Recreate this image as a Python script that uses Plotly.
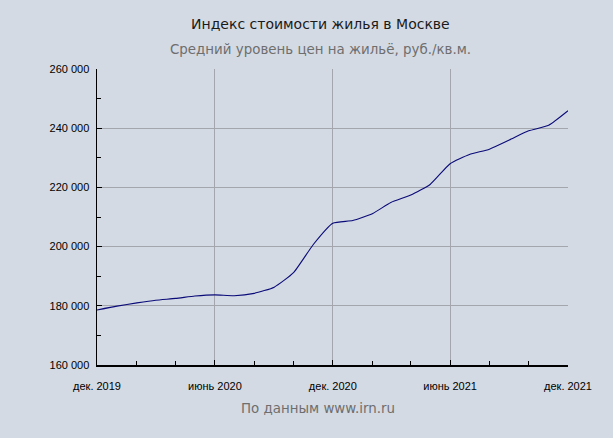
import plotly.graph_objects as go

months = ["2019-12-01", "2020-01-01", "2020-02-01", "2020-03-01", "2020-04-01", "2020-05-01",
          "2020-06-01", "2020-07-01", "2020-08-01", "2020-09-01", "2020-10-01", "2020-11-01",
          "2020-12-01", "2021-01-01", "2021-02-01", "2021-03-01", "2021-04-01", "2021-05-01",
          "2021-06-01", "2021-07-01", "2021-08-01", "2021-09-01", "2021-10-01", "2021-11-01",
          "2021-12-01"]
price = [178600, 179900, 181000, 181900, 182500, 183300,
         183700, 183400, 184200, 186300, 191200, 200800,
         207900, 208800, 211200, 214900, 217400, 221000,
         228000, 231100, 232900, 236000, 239100, 241000,
         245900]

x_tickvals = ["2019-12-01", "2020-06-01", "2020-12-01", "2021-06-01", "2021-12-01"]
x_ticktext = ["дек. 2019", "июнь 2020", "дек. 2020", "июнь 2021", "дек. 2021"]
y_tickvals = [160000, 180000, 200000, 220000, 240000, 260000]
y_ticktext = ["160 000", "180 000", "200 000", "220 000", "240 000", "260 000"]

title = "Индекс стоимости жилья в Москве"
subtitle = "Средний уровень цен на жильё, руб./кв.м."
source = "По данным www.irn.ru"

bg = "#D3DAE3"

fig = go.Figure()
fig.add_trace(go.Scatter(x=months, y=price, mode="lines",
                         line=dict(color="#0A0A78", width=1.1, shape="spline", smoothing=0.5),
                         hoverinfo="skip", showlegend=False))

fig.update_layout(
    width=613, height=438,
    margin=dict(l=97, r=45, t=69, b=73),
    paper_bgcolor=bg, plot_bgcolor=bg,
    font=dict(family="Liberation Sans, Arial, sans-serif", size=11, color="#000000"),
    showlegend=False,
)
fig.update_xaxes(
    type="date", range=["2019-12-01", "2021-12-01"],
    tickmode="array", tickvals=x_tickvals, ticktext=x_ticktext,
    showgrid=True, gridcolor="#A3A7AD", gridwidth=1,
    showline=True, linecolor="#000000", linewidth=1.5, mirror=False,
    ticks="inside", ticklen=5, tickcolor="#000000",
    minor=dict(dtick="M2", tick0="2019-12-01", ticks="inside", ticklen=4, tickcolor="#000000", showgrid=False),
    tickfont=dict(size=11, color="#000000"),
    ticklabelstandoff=10,
    zeroline=False, fixedrange=True,
)
fig.update_yaxes(
    range=[160000, 260000],
    tickmode="array", tickvals=y_tickvals, ticktext=y_ticktext,
    showgrid=True, gridcolor="#A3A7AD", gridwidth=1,
    showline=True, linecolor="#000000", linewidth=1.5, mirror=False,
    ticks="inside", ticklen=5, tickcolor="#000000",
    minor=dict(dtick=10000, tick0=160000, ticks="inside", ticklen=4, tickcolor="#000000", showgrid=False),
    tickfont=dict(size=11, color="#000000"),
    ticklabelstandoff=4,
    zeroline=False, fixedrange=True,
)

annots = [
    dict(text=title, y=24, size=14, color="#1A1A1A", cx=320.5),
    dict(text=subtitle, y=49, size=13.4, color="#6E6E6E", cx=320.5),
    dict(text=source, y=408, size=13.4, color="#6E6E6E", cx=318),
]
for a in annots:
    fig.add_annotation(
        text=a["text"], xref="paper", yref="paper",
        x=(a["cx"] - 97) / 471, y=1 + (69 - a["y"]) / 296,
        xanchor="center", yanchor="middle", showarrow=False,
        font=dict(family="DejaVu Sans", size=a["size"], color=a["color"]),
    )

fig.write_html(
    "out.html",
    config={"displayModeBar": False, "staticPlot": True},
    post_script="document.body.style.margin='0';document.body.style.background='" + bg + "';",
)
